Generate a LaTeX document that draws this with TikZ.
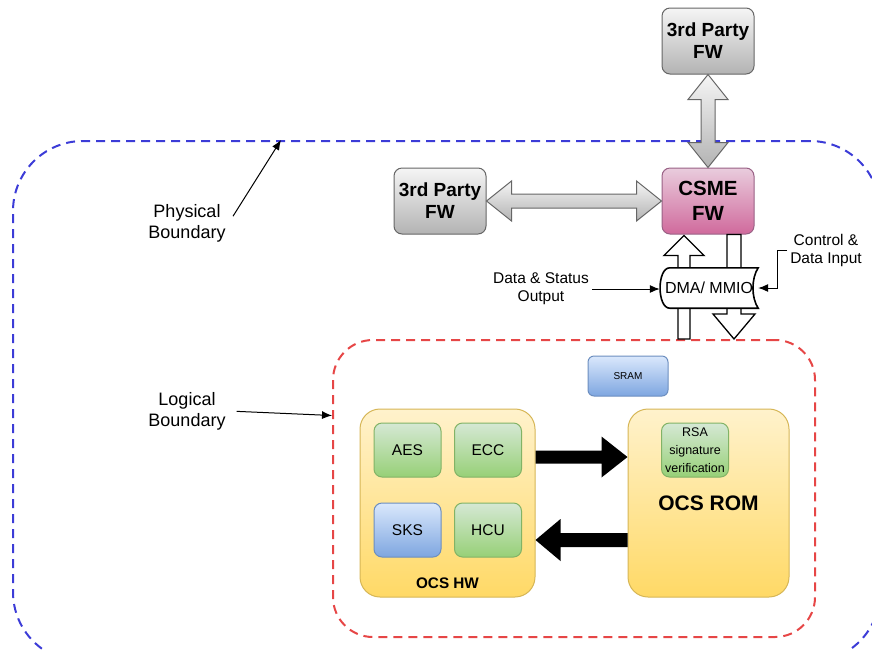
\documentclass[tikz,border=0pt]{standalone}
\usepackage{fontspec}
\setmainfont{Liberation Sans}
\usetikzlibrary{calc,arrows.meta}

\definecolor{grayTop}{HTML}{F5F5F5}
\definecolor{grayBot}{HTML}{B3B3B3}
\definecolor{grayLine}{HTML}{666666}
\definecolor{pinkTop}{HTML}{E9CCDD}
\definecolor{pinkBot}{HTML}{D06A9C}
\definecolor{pinkLine}{HTML}{996185}
\definecolor{yellowTop}{HTML}{FFF2CC}
\definecolor{yellowBot}{HTML}{FFD966}
\definecolor{yellowLine}{HTML}{D6B656}
\definecolor{greenTop}{HTML}{D5E8D4}
\definecolor{greenBot}{HTML}{97D077}
\definecolor{greenLine}{HTML}{82B366}
\definecolor{blueTop}{HTML}{DAE8FC}
\definecolor{blueBot}{HTML}{7EA6E0}
\definecolor{blueLine}{HTML}{6C8EBF}
\definecolor{physBlue}{RGB}{60,60,215}
\definecolor{logRed}{RGB}{230,70,70}

\tikzset{
    fwbox/.style={draw=grayLine, line width=1pt, rounded corners=8pt, top color=grayTop, bottom color=grayBot,
        minimum width=92pt, minimum height=66pt, inner sep=0pt, align=center,
        font=\fontsize{19}{22}\selectfont\bfseries},
    csmebox/.style={fwbox, draw=pinkLine, top color=pinkTop, bottom color=pinkBot,
        font=\fontsize{20.5}{25}\selectfont\bfseries},
    ocsbox/.style={draw=yellowLine, line width=1pt, rounded corners=20pt, top color=yellowTop, bottom color=yellowBot,
        minimum height=188pt, inner sep=0pt},
    greenbox/.style={draw=greenLine, line width=1pt, rounded corners=8pt, top color=greenTop, bottom color=greenBot,
        minimum width=67pt, minimum height=54pt, inner sep=0pt, font=\fontsize{15.5}{18}\selectfont},
    bluebox/.style={greenbox, draw=blueLine, top color=blueTop, bottom color=blueBot},
    srambox/.style={bluebox, rounded corners=6pt, minimum width=80pt, minimum height=40pt, font=\fontsize{10}{12}\selectfont},
    physbound/.style={draw=physBlue, line width=2pt, dash pattern=on 9pt off 6pt, rounded corners=70pt,
        minimum width=867pt, minimum height=521pt, inner sep=0pt},
    logbound/.style={draw=logRed, line width=2pt, dash pattern=on 9pt off 6pt, rounded corners=40pt,
        minimum width=482pt, minimum height=297pt, inner sep=0pt},
    grayarrow/.style={draw=grayLine, line width=1pt, top color=grayTop, bottom color=grayBot},
    hollowarrow/.style={draw=black, line width=1.3pt, fill=white},
    lbl/.style={align=center, inner sep=3pt},
    pointer/.style={-{Latex[length=10pt,width=8pt]}, line width=1pt},
}

\begin{document}
\begin{tikzpicture}[x=1pt,y=-1pt]
    \useasboundingbox (0,0) rectangle (872,649);
    \clip (0,0) rectangle (872,649);

    \node (physical) at (446.5,401.5)[physbound]{};
    \node (logical) at (574,488.5)[logbound]{};

    \node (top3p) at (708,41)[fwbox]{3rd Party\\FW};
    \node (left3p) at (440,201)[fwbox]{3rd Party\\FW};
    \node (csme) at (708,201)[csmebox]{CSME\\FW};

    \draw[grayarrow] (top3p.south) -- ++(20,25) -- ++(-13,0) -- ($(csme.north)+(7,-25)$) -- ++(13,0) -- (csme.north)
        -- ++(-20,-25) -- ++(13,0) -- ($(top3p.south)+(-7,25)$) -- ++(-13,0) -- cycle;
    \draw[grayarrow] (left3p.east) -- ++(25,-20) -- ++(0,13) -- ($(csme.west)+(-25,-7)$) -- ++(0,-13) -- (csme.west)
        -- ++(-25,20) -- ++(0,-13) -- ($(left3p.east)+(25,7)$) -- ++(0,13) -- cycle;

    \coordinate (uptip) at ($(csme.south)+(-24,1)$);
    \coordinate (upfoot) at (uptip |- logical.north);
    \coordinate (dnfoot) at ($(csme.south)+(26,0)$);
    \coordinate (dntip) at (dnfoot |- logical.north);
    \draw[hollowarrow] ($(upfoot)+(-6,0)$) -- ($(uptip)+(-6,20)$) -- ++(-14,0) -- (uptip) -- ++(20,20) -- ++(-14,0)
        -- ($(upfoot)+(6,0)$) -- cycle;
    \draw[hollowarrow] ($(dnfoot)+(-7,0)$) -- ($(dntip)+(-7,-25)$) -- ++(-14,0) -- (dntip) -- ++(21,-25) -- ++(-14,0)
        -- ($(dnfoot)+(7,0)$) -- cycle;

    \node (dma) at (709,288)[minimum width=98pt, minimum height=40pt, inner sep=0pt]{};
    \draw[line width=1.6pt, fill=white] ($(dma.north west)+(10,0)$) -- (dma.north east)
        .. controls ($(dma.east)+(-7,-10)$) and ($(dma.east)+(-7,10)$) .. (dma.south east)
        -- ($(dma.south west)+(10,0)$) .. controls ($(dma.south west)+(-3,0)$) and ($(dma.north west)+(-3,0)$) .. cycle;
    \node (dmatxt) at (dma)[font=\fontsize{16}{18}\selectfont]{DMA/ MMIO};

    \node (dsout) at (541,289)[lbl, font=\fontsize{15.5}{18}\selectfont]{Data \& Status\\Output};
    \node (cdin) at (826,250)[lbl, font=\fontsize{15.5}{18}\selectfont]{Control \&\\Data Input};
    \draw[pointer] (dsout.east) -- (dsout.east -| dma.west);
    \draw[pointer] (cdin.west) -- ++(-10,0) |- (dma.east);

    \node (physlbl) at (187,223)[lbl, font=\fontsize{18}{21}\selectfont]{Physical\\Boundary};
    \node (loglbl) at (187,411)[lbl, font=\fontsize{18}{21}\selectfont]{Logical\\Boundary};
    \coordinate (phystip) at ($(physical.north west)+(269,0)$);
    \coordinate (logtip) at ($(logical.west)+(0,-73)$);
    \draw[pointer, shorten <=8pt] (physlbl.east) -- (phystip);
    \draw[pointer, shorten <=8pt] (loglbl.east) -- (logtip);

    \node (sram) at (628,376)[srambox]{SRAM};

    \node (ocshw) at (447.5,503)[ocsbox, minimum width=175pt]{};
    \node (ocsrom) at (708.5,503)[ocsbox, minimum width=161pt, font=\fontsize{21}{24}\selectfont\bfseries]{OCS ROM};
    \node (ocshwlbl) at ($(ocshw.south)+(0,-14)$)[font=\fontsize{15.3}{18}\selectfont\bfseries]{OCS HW};

    \foreach \name/\txt/\x/\y/\st in {aes/AES/407.5/450/greenbox, ecc/ECC/488/450/greenbox,
                                      sks/SKS/407.5/530/bluebox, hcu/HCU/488/530/greenbox}
        {
            \node (\name) at (\x,\y)[\st]{\txt};
        }
    \node (rsa) at (695,450)[greenbox, align=center, font=\fontsize{12.5}{18}\selectfont]{RSA\\signature\\verification};

    \coordinate (hwout) at ($(ocshw.east)+(0,-46)$);
    \coordinate (romin) at (hwout -| ocsrom.west);
    \fill[black] ($(hwout)+(0,-6.5)$) -- ($(romin)+(-26,-6.5)$) -- ++(0,-14) -- (romin) -- ++(-26,20.5) -- ++(0,-14)
        -- ($(hwout)+(0,6.5)$) -- cycle;
    \coordinate (romout) at ($(ocsrom.west)+(0,37)$);
    \coordinate (hwin) at (romout -| ocshw.east);
    \fill[black] ($(romout)+(0,-7)$) -- ($(hwin)+(25,-7)$) -- ++(0,-14) -- (hwin) -- ++(25,21) -- ++(0,-14)
        -- ($(romout)+(0,7)$) -- cycle;
\end{tikzpicture}
\end{document}
